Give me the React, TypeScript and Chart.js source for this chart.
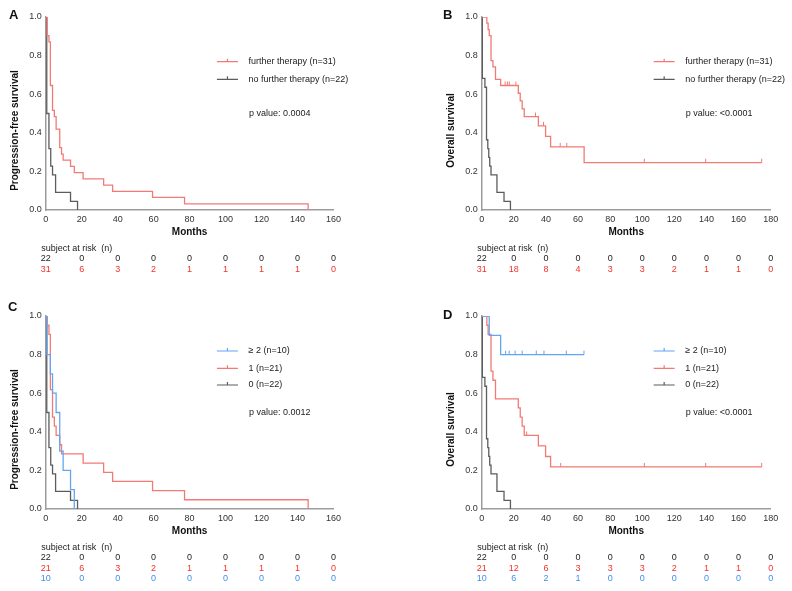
import React, { useEffect, useRef } from "react";
import { Chart, registerables } from "chart.js";

Chart.register(...registerables);

const FONT = '"Liberation Sans", Arial, Helvetica, sans-serif';

// ---------------- Data ----------------
const MONTHS_160 = [0, 20, 40, 60, 80, 100, 120, 140, 160];
const MONTHS_180 = [0, 20, 40, 60, 80, 100, 120, 140, 160, 180];

// A – progression-free survival, further therapy vs none
const A_FURTHER_T = [0.8, 1.8, 2.6, 3.8, 4.8, 5.8, 7.8, 8.8, 9.7, 13.8, 15.9, 20.8, 32.2, 37.2, 59.4, 77.2, 145.9];
const A_FURTHER_S = [0.903, 0.871, 0.645, 0.516, 0.484, 0.419, 0.323, 0.29, 0.258, 0.226, 0.194, 0.161, 0.129, 0.097, 0.065, 0.032, 0];
const A_NONE_T = [0.6, 1.8, 2.8, 3.8, 5.5, 13.8, 17.7];
const A_NONE_S = [0.5, 0.318, 0.227, 0.182, 0.091, 0.045, 0];
const A_RISK_NONE = [22, 0, 0, 0, 0, 0, 0, 0, 0];
const A_RISK_FURTHER = [31, 6, 3, 2, 1, 1, 1, 1, 0];

// B – overall survival, further therapy vs none
const B_FURTHER_T = [3.2, 4.0, 4.7, 5.8, 7.0, 8.6, 11.8, 22.8, 24.0, 25.2, 26.5, 35.3, 39.8, 42.9, 63.8, 174.4];
const B_FURTHER_S = [0.968, 0.935, 0.903, 0.774, 0.742, 0.677, 0.645, 0.605, 0.565, 0.524, 0.484, 0.436, 0.381, 0.327, 0.245, 0.245];
const B_FURTHER_CENS = [14.6, 16.0, 17.2, 21.3, 33.5, 38.5, 48.9, 53.0, 101.3, 139.5, 174.4];
const B_NONE_T = [0.4, 2.0, 3.0, 3.8, 4.4, 5.0, 5.8, 9.5, 13.9, 17.9];
const B_NONE_S = [0.682, 0.636, 0.364, 0.318, 0.273, 0.227, 0.182, 0.091, 0.045, 0];
const B_RISK_NONE = [22, 0, 0, 0, 0, 0, 0, 0, 0, 0];
const B_RISK_FURTHER = [31, 18, 8, 4, 3, 3, 2, 1, 1, 0];

// C – progression-free survival by number of further therapies
const C_TWO_T = [0.7, 2.6, 3.8, 5.8, 7.8, 9.7, 13.8, 15.9];
const C_TWO_S = [0.8, 0.7, 0.6, 0.5, 0.3, 0.2, 0.1, 0];
const C_ONE_T = [0.8, 1.8, 2.6, 3.8, 4.8, 5.8, 7.8, 8.8, 20.8, 32.2, 37.2, 59.4, 77.2, 145.9];
const C_ONE_S = [0.952, 0.905, 0.619, 0.476, 0.429, 0.381, 0.333, 0.286, 0.238, 0.19, 0.143, 0.095, 0.048, 0];
const C_RISK_ZERO = [22, 0, 0, 0, 0, 0, 0, 0, 0];
const C_RISK_ONE = [21, 6, 3, 2, 1, 1, 1, 1, 0];
const C_RISK_TWO = [10, 0, 0, 0, 0, 0, 0, 0, 0];

// D – overall survival by number of further therapies
const D_TWO_T = [4.7, 11.8, 63.7];
const D_TWO_S = [0.9, 0.8, 0.8];
const D_TWO_CENS = [14.9, 17.1, 20.8, 25.2, 34.0, 38.8, 52.7, 63.7];
const D_ONE_T = [3.2, 4.0, 5.8, 7.0, 8.6, 22.8, 24.0, 25.2, 26.5, 35.3, 39.8, 42.9, 174.4];
const D_ONE_S = [0.952, 0.905, 0.714, 0.667, 0.571, 0.524, 0.476, 0.429, 0.381, 0.327, 0.272, 0.218, 0.218];
const D_ONE_CENS = [28.0, 49.2, 101.3, 139.5, 174.4];
const D_RISK_ZERO = [22, 0, 0, 0, 0, 0, 0, 0, 0, 0];
const D_RISK_ONE = [21, 12, 6, 3, 3, 3, 2, 1, 1, 0];
const D_RISK_TWO = [10, 6, 2, 1, 0, 0, 0, 0, 0, 0];

// ---------------- Styles ----------------
const RED_LINE = "#f27a74";
const GREY_LINE = "#5c5c5c";
const BLUE_LINE = "#62a6f2";
const RED_TEXT = "#f1322b";
const BLUE_TEXT = "#3f90ea";
const DARK = "#222222";
const AXIS = "#9c9c9c";

type Curve = {
  label: string;
  t: number[];
  s: number[];
  cens: number[];
  color: string;
  textColor: string;
  risk: number[];
};

type PanelCfg = {
  letter: string;
  letterDx: number;
  letterDy: number;
  x: number;
  y: number;
  w: number;
  h: number;
  area: { left: number; top: number; right: number; bottom: number };
  xMax: number;
  ticks: number[];
  yTitle: string;
  pText: string;
  legendY: number[];
  curves: Curve[];
};

const PANELS: PanelCfg[] = [
  {
    letter: "A", letterDx: -32, letterDy: -2,
    x: 0, y: 0, w: 396, h: 290,
    area: { left: 45.7, top: 17, right: 333.5, bottom: 210 },
    xMax: 160, ticks: MONTHS_160,
    yTitle: "Progression-free survival", pText: "p value: 0.0004",
    legendY: [44.7, 62.3],
    curves: [
      { label: "further therapy (n=31)", t: A_FURTHER_T, s: A_FURTHER_S, cens: [], color: RED_LINE, textColor: RED_TEXT, risk: A_RISK_FURTHER },
      { label: "no further therapy (n=22)", t: A_NONE_T, s: A_NONE_S, cens: [], color: GREY_LINE, textColor: DARK, risk: A_RISK_NONE },
    ],
  },
  {
    letter: "B", letterDx: -34, letterDy: -2,
    x: 396, y: 0, w: 396, h: 290,
    area: { left: 85.7, top: 17, right: 374.7, bottom: 210 },
    xMax: 180, ticks: MONTHS_180,
    yTitle: "Overall survival", pText: "p value: <0.0001",
    legendY: [44.7, 62.3],
    curves: [
      { label: "further therapy (n=31)", t: B_FURTHER_T, s: B_FURTHER_S, cens: B_FURTHER_CENS, color: RED_LINE, textColor: RED_TEXT, risk: B_RISK_FURTHER },
      { label: "no further therapy (n=22)", t: B_NONE_T, s: B_NONE_S, cens: [], color: GREY_LINE, textColor: DARK, risk: B_RISK_NONE },
    ],
  },
  {
    letter: "C", letterDx: -33, letterDy: -9,
    x: 0, y: 290, w: 396, h: 301,
    area: { left: 45.7, top: 26, right: 333.5, bottom: 219 },
    xMax: 160, ticks: MONTHS_160,
    yTitle: "Progression-free survival", pText: "p value: 0.0012",
    legendY: [35, 52.3, 69],
    curves: [
      { label: "\u2265 2 (n=10)", t: C_TWO_T, s: C_TWO_S, cens: [], color: BLUE_LINE, textColor: BLUE_TEXT, risk: C_RISK_TWO },
      { label: "1 (n=21)", t: C_ONE_T, s: C_ONE_S, cens: [], color: RED_LINE, textColor: RED_TEXT, risk: C_RISK_ONE },
      { label: "0 (n=22)", t: A_NONE_T, s: A_NONE_S, cens: [], color: GREY_LINE, textColor: DARK, risk: C_RISK_ZERO },
    ],
  },
  {
    letter: "D", letterDx: -34, letterDy: -1,
    x: 396, y: 290, w: 396, h: 301,
    area: { left: 85.7, top: 26, right: 374.7, bottom: 219 },
    xMax: 180, ticks: MONTHS_180,
    yTitle: "Overall survival", pText: "p value: <0.0001",
    legendY: [35, 52.3, 69],
    curves: [
      { label: "\u2265 2 (n=10)", t: D_TWO_T, s: D_TWO_S, cens: D_TWO_CENS, color: BLUE_LINE, textColor: BLUE_TEXT, risk: D_RISK_TWO },
      { label: "1 (n=21)", t: D_ONE_T, s: D_ONE_S, cens: D_ONE_CENS, color: RED_LINE, textColor: RED_TEXT, risk: D_RISK_ONE },
      { label: "0 (n=22)", t: B_NONE_T, s: B_NONE_S, cens: [], color: GREY_LINE, textColor: DARK, risk: D_RISK_ZERO },
    ],
  },
];

function survAt(cv: Curve, time: number): number {
  let v = 1;
  for (let i = 0; i < cv.t.length; i++) if (cv.t[i] <= time) v = cv.s[i];
  return v;
}

function Panel({ cfg }: { cfg: PanelCfg }) {
  const ref = useRef<HTMLCanvasElement>(null);

  useEffect(() => {
    const canvas = ref.current!;
    const WY = 40;
    const HX = 20;
    const a = cfg.area;

    const datasets = cfg.curves.map((cv) => ({
      label: cv.label,
      data: [{ x: 0, y: 1 }, ...cv.t.map((t, i) => ({ x: t, y: cv.s[i] }))],
      borderColor: cv.color,
      backgroundColor: cv.color,
      borderWidth: 1.3,
      stepped: "before" as const,
      pointRadius: 0,
      fill: false,
      tension: 0,
    }));

    const decor = {
      id: "decor",
      afterDatasetsDraw(chart: any) {
        const ctx = chart.ctx;
        const xs = chart.scales.x;
        const ys = chart.scales.y;
        ctx.save();
        cfg.curves.forEach((cv) => {
          ctx.strokeStyle = cv.color;
          ctx.lineWidth = 1;
          cv.cens.forEach((c) => {
            const px = xs.getPixelForValue(c);
            const py = ys.getPixelForValue(survAt(cv, c));
            ctx.beginPath();
            ctx.moveTo(px, py);
            ctx.lineTo(px, py - 4);
            ctx.stroke();
          });
        });
        ctx.restore();
      },
      afterDraw(chart: any) {
        const ctx = chart.ctx;
        const ca = chart.chartArea;
        const xs = chart.scales.x;
        ctx.save();
        // panel letter
        ctx.fillStyle = "#111";
        ctx.font = `bold 13px ${FONT}`;
        ctx.textAlign = "center";
        ctx.textBaseline = "middle";
        ctx.fillText(cfg.letter, ca.left + cfg.letterDx, ca.top + cfg.letterDy);

        // y title
        ctx.save();
        ctx.translate(ca.left - 30.3, (ca.top + ca.bottom) / 2 + 17);
        ctx.rotate(-Math.PI / 2);
        ctx.font = `bold 10px ${FONT}`;
        ctx.fillText(cfg.yTitle, 0, 0);
        ctx.restore();

        // x title
        ctx.font = `bold 10px ${FONT}`;
        ctx.fillText("Months", (ca.left + ca.right) / 2, ca.bottom + 22.7);

        // legend
        const lx = ca.left + 0.595 * (ca.right - ca.left);
        ctx.font = `9px ${FONT}`;
        cfg.curves.forEach((cv, i) => {
          const ly = ca.top + cfg.legendY[i];
          ctx.strokeStyle = cv.color;
          ctx.lineWidth = 1.2;
          ctx.beginPath();
          ctx.moveTo(lx, ly);
          ctx.lineTo(lx + 21, ly);
          ctx.moveTo(lx + 10.5, ly);
          ctx.lineTo(lx + 10.5, ly - 3);
          ctx.stroke();
          ctx.fillStyle = DARK;
          ctx.textAlign = "left";
          ctx.fillText(cv.label, lx + 31.6, ly);
        });
        ctx.fillText(cfg.pText, lx + 32, ca.top + 96.3);

        // risk table
        ctx.textAlign = "left";
        ctx.fillStyle = DARK;
        ctx.fillText("subject at risk  (n)", ca.left - 4.5, ca.bottom + 38.5);
        const rows = [...cfg.curves].reverse();
        ctx.textAlign = "center";
        rows.forEach((cv, r) => {
          ctx.fillStyle = cv.textColor;
          cv.risk.forEach((n, k) => {
            ctx.fillText(String(n), xs.getPixelForValue(cfg.ticks[k]), ca.bottom + 49 + 10.2 * r);
          });
        });
        ctx.restore();
      },
    };

    const chart = new Chart(canvas, {
      type: "line",
      data: { datasets: datasets as any },
      options: {
        responsive: false,
        animation: false,
        events: [],
        layout: {
          padding: {
            left: a.left - WY,
            top: a.top,
            right: cfg.w - a.right,
            bottom: cfg.h - a.bottom - HX,
          },
        },
        plugins: { legend: { display: false }, tooltip: { enabled: false }, title: { display: false } },
        scales: {
          x: {
            type: "linear",
            min: 0,
            max: cfg.xMax,
            afterFit: (s: any) => { s.height = HX; },
            grid: { display: false, drawTicks: false },
            border: { display: true, color: AXIS, width: 1.5 },
            ticks: {
              stepSize: 20,
              autoSkip: false,
              maxRotation: 0,
              padding: 4,
              color: "#333",
              font: { family: FONT, size: 9 },
            },
          },
          y: {
            type: "linear",
            min: 0,
            max: 1,
            afterFit: (s: any) => { s.width = WY; },
            grid: { display: false, drawTicks: false },
            border: { display: true, color: AXIS, width: 1.5 },
            ticks: {
              stepSize: 0.2,
              padding: 4,
              color: "#333",
              font: { family: FONT, size: 9 },
              callback: (v: any) => Number(v).toFixed(1),
            },
          },
        },
      },
      plugins: [decor],
    });
    return () => chart.destroy();
  }, [cfg]);

  return (
    <canvas
      ref={ref}
      width={cfg.w}
      height={cfg.h}
      style={{ position: "absolute", left: cfg.x, top: cfg.y, width: cfg.w, height: cfg.h }}
    />
  );
}

export default function App() {
  return (
    <div style={{ position: "absolute", left: 0, top: 0, width: 792, height: 591, background: "#fff", overflow: "hidden" }}>
      {PANELS.map((p) => (
        <Panel key={p.letter} cfg={p} />
      ))}
    </div>
  );
}
